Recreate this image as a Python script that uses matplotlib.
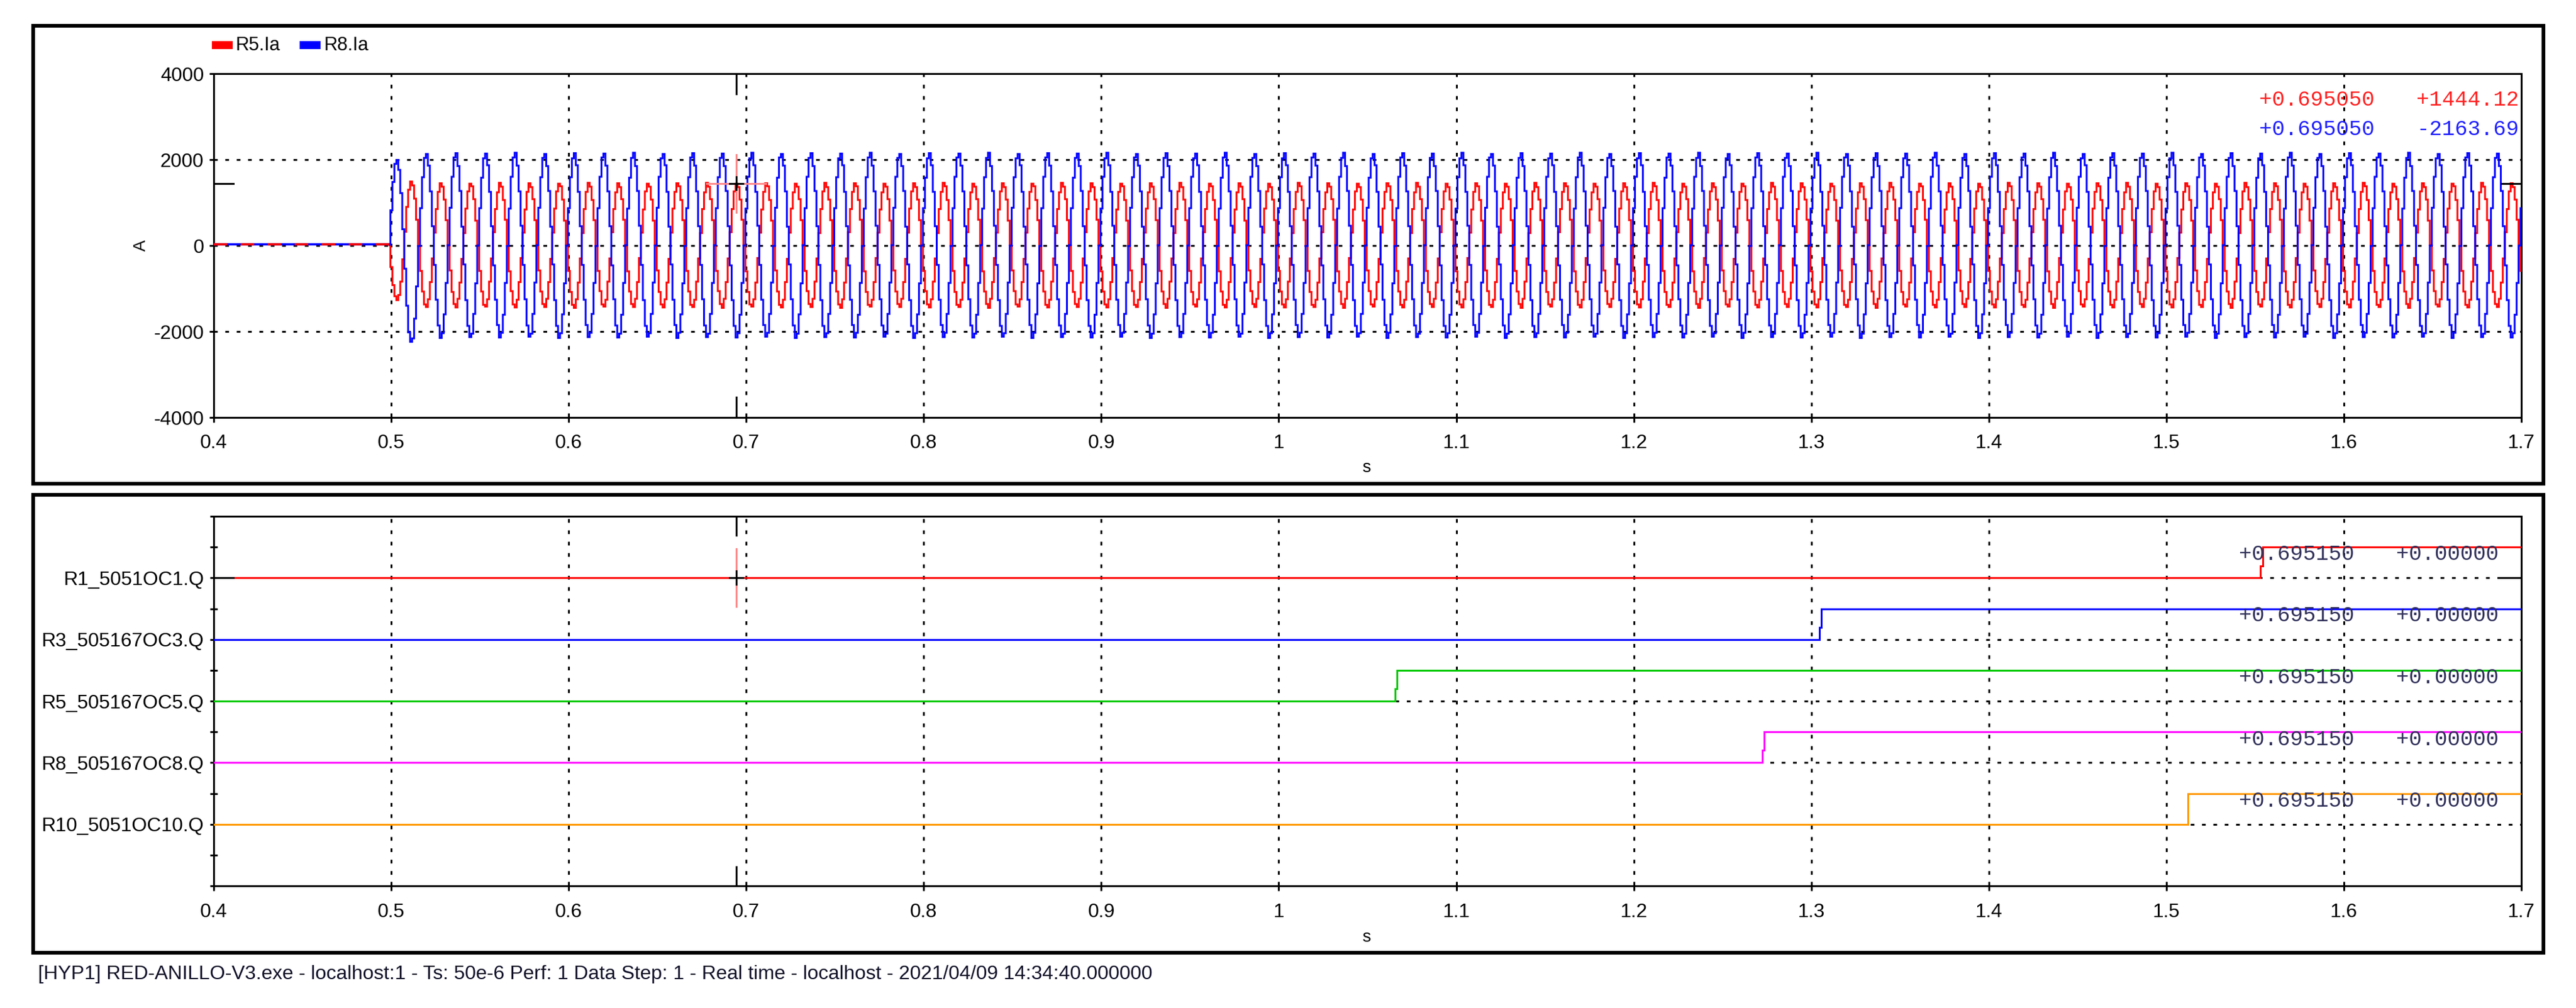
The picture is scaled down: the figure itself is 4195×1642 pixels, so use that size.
from matplotlib import pyplot as plt
from matplotlib.patches import Rectangle
import numpy as np

# size of the picture in pixels
W = 4195
H = 1642

x_ticks = [0.4, 0.5, 0.6, 0.7, 0.8, 0.9, 1.0, 1.1, 1.2, 1.3, 1.4, 1.5, 1.6, 1.7]
x_labels = ['0.4', '0.5', '0.6', '0.7', '0.8', '0.9', '1', '1.1', '1.2', '1.3', '1.4', '1.5', '1.6', '1.7']
y_ticks = [-4000, -2000, 0, 2000, 4000]

# one reading every 1/900 s, starting when the fault current appears
fault_start = 0.499
sample_step = 1 / 900
prefault_t = [0.4, 0.499]
prefault_r5 = [30, 30]
prefault_r8 = [35, 35]

r5_ia = [
    10, -500, -920, -1180, -1270, -1150, -840, -320, 320, 900, 1300, 1490, 1400, 1090, 600,
    -10, -590, -1070, -1370, -1430, -1250, -850, -300, 300, 850, 1250, 1450, 1370, 1070, 590,
    0, -580, -1080, -1360, -1440, -1240, -860, -310, 290, 860, 1260, 1440, 1380, 1080, 580,
    10, -590, -1070, -1380, -1420, -1250, -840, -300, 310, 850, 1240, 1460, 1370, 1060, 600,
    -10, -600, -1060, -1370, -1440, -1260, -850, -290, 300, 840, 1250, 1450, 1360, 1080, 590,
    0, -580, -1070, -1360, -1430, -1240, -850, -310, 300, 860, 1260, 1440, 1380, 1070, 580,
    10, -590, -1080, -1380, -1450, -1250, -860, -300, 290, 850, 1250, 1460, 1370, 1060, 590,
    -10, -590, -1060, -1370, -1420, -1260, -840, -300, 310, 850, 1240, 1450, 1360, 1080, 600,
    0, -600, -1070, -1360, -1430, -1240, -850, -290, 300, 840, 1260, 1440, 1370, 1070, 580,
    10, -580, -1080, -1370, -1440, -1250, -860, -310, 300, 860, 1250, 1450, 1380, 1060, 590,
    -10, -590, -1070, -1380, -1430, -1260, -840, -300, 290, 850, 1240, 1460, 1370, 1080, 590,
    0, -590, -1060, -1360, -1450, -1240, -850, -300, 310, 850, 1260, 1440, 1360, 1070, 600,
    10, -600, -1080, -1370, -1420, -1250, -860, -290, 300, 840, 1250, 1450, 1380, 1060, 580,
    -10, -580, -1070, -1380, -1440, -1260, -850, -310, 300, 860, 1240, 1440, 1370, 1080, 590,
    0, -590, -1060, -1360, -1430, -1240, -840, -300, 290, 850, 1260, 1460, 1360, 1070, 590,
    10, -590, -1070, -1370, -1450, -1250, -860, -300, 310, 850, 1250, 1450, 1380, 1060, 600,
    -10, -600, -1080, -1380, -1420, -1260, -850, -290, 300, 840, 1240, 1440, 1370, 1080, 580,
    0, -580, -1070, -1360, -1430, -1240, -850, -310, 300, 860, 1260, 1450, 1360, 1070, 590,
    10, -590, -1060, -1370, -1440, -1250, -840, -300, 290, 850, 1250, 1460, 1380, 1060, 590,
    -10, -590, -1080, -1380, -1430, -1260, -860, -300, 310, 850, 1240, 1440, 1370, 1080, 600,
    0, -600, -1070, -1360, -1450, -1240, -850, -290, 300, 840, 1260, 1450, 1360, 1070, 580,
    10, -580, -1060, -1370, -1420, -1250, -850, -310, 300, 860, 1250, 1440, 1380, 1060, 590,
    -10, -590, -1070, -1380, -1440, -1260, -840, -300, 290, 850, 1240, 1460, 1370, 1080, 590,
    0, -590, -1080, -1360, -1430, -1240, -860, -300, 310, 850, 1260, 1450, 1360, 1070, 600,
    10, -600, -1070, -1370, -1440, -1250, -850, -290, 300, 840, 1250, 1440, 1380, 1060, 580,
    -10, -580, -1060, -1380, -1430, -1260, -850, -310, 300, 860, 1240, 1450, 1370, 1080, 590,
    0, -590, -1070, -1360, -1450, -1240, -840, -300, 290, 850, 1260, 1460, 1360, 1070, 590,
    10, -590, -1080, -1370, -1420, -1250, -860, -300, 310, 850, 1250, 1440, 1380, 1060, 600,
    -10, -600, -1070, -1380, -1440, -1260, -850, -290, 300, 840, 1240, 1450, 1370, 1080, 580,
    0, -580, -1060, -1360, -1430, -1240, -850, -310, 300, 860, 1260, 1440, 1360, 1070, 590,
    10, -590, -1070, -1370, -1440, -1250, -840, -300, 290, 850, 1250, 1460, 1380, 1060, 590,
    -10, -590, -1080, -1380, -1430, -1260, -860, -300, 310, 850, 1240, 1450, 1370, 1080, 600,
    0, -600, -1070, -1360, -1450, -1240, -850, -290, 300, 840, 1260, 1440, 1360, 1070, 580,
    10, -580, -1060, -1370, -1420, -1250, -850, -310, 300, 860, 1250, 1450, 1380, 1060, 590,
    -10, -590, -1070, -1380, -1440, -1260, -840, -300, 290, 850, 1240, 1460, 1370, 1080, 590,
    0, -590, -1080, -1360, -1430, -1240, -860, -300, 310, 850, 1260, 1440, 1360, 1070, 600,
    10, -600, -1070, -1370, -1440, -1250, -850, -290, 300, 840, 1250, 1450, 1380, 1060, 580,
    -10, -580, -1060, -1380, -1430, -1260, -850, -310, 300, 860, 1240, 1440, 1370, 1080, 590,
    0, -590, -1070, -1360, -1450, -1240, -840, -300, 290, 850, 1260, 1460, 1360, 1070, 590,
    10, -590, -1080, -1370, -1420, -1250, -860, -300, 310, 850, 1250, 1450, 1380, 1060, 600,
    -10, -600, -1070, -1380, -1440, -1260, -850, -290, 300, 840, 1240, 1440, 1370, 1080, 580,
    0, -580, -1060, -1360, -1430, -1240, -850, -310, 300, 860, 1260, 1450, 1360, 1070, 590,
    10, -590, -1070, -1370, -1440, -1250, -840, -300, 290, 850, 1250, 1460, 1380, 1060, 590,
    -10, -590, -1080, -1380, -1430, -1260, -860, -300, 310, 850, 1240, 1440, 1370, 1080, 600,
    0, -600, -1070, -1360, -1450, -1240, -850, -290, 300, 840, 1260, 1450, 1360, 1070, 580,
    10, -580, -1060, -1370, -1420, -1250, -850, -310, 300, 860, 1250, 1440, 1380, 1060, 590,
    -10, -590, -1070, -1380, -1440, -1260, -840, -300, 290, 850, 1240, 1460, 1370, 1080, 590,
    0, -590, -1080, -1360, -1430, -1240, -860, -300, 310, 850, 1260, 1450, 1360, 1070, 600,
    10, -600, -1070, -1370, -1440, -1250, -850, -290, 300, 840, 1250, 1440, 1380, 1060, 580,
    -10, -580, -1060, -1380, -1430, -1260, -850, -310, 300, 860, 1240, 1450, 1370, 1080, 590,
    0, -590, -1070, -1360, -1450, -1240, -840, -300, 290, 850, 1260, 1460, 1360, 1070, 590,
    10, -590, -1080, -1370, -1420, -1250, -860, -300, 310, 850, 1250, 1440, 1380, 1060, 600,
    -10, -600, -1070, -1380, -1440, -1260, -850, -290, 300, 840, 1240, 1450, 1370, 1080, 580,
    0, -580, -1060, -1360, -1430, -1240, -850, -310, 300, 860, 1260, 1440, 1360, 1070, 590,
    10, -590, -1070, -1370, -1440, -1250, -840, -300, 290, 850, 1250, 1460, 1380, 1060, 590,
    -10, -590, -1080, -1380, -1430, -1260, -860, -300, 310, 850, 1240, 1450, 1370, 1080, 600,
    0, -600, -1070, -1360, -1450, -1240, -850, -290, 300, 840, 1260, 1440, 1360, 1070, 580,
    10, -580, -1060, -1370, -1420, -1250, -850, -310, 300, 860, 1250, 1450, 1380, 1060, 590,
    -10, -590, -1070, -1380, -1440, -1260, -840, -300, 290, 850, 1240, 1460, 1370, 1080, 590,
    0, -590, -1080, -1360, -1430, -1240, -860, -300, 310, 850, 1260, 1440, 1360, 1070, 600,
    10, -600, -1070, -1370, -1440, -1250, -850, -290, 300, 840, 1250, 1450, 1380, 1060, 580,
    -10, -580, -1060, -1380, -1430, -1260, -850, -310, 300, 860, 1240, 1440, 1370, 1080, 590,
    0, -590, -1070, -1360, -1450, -1240, -840, -300, 290, 850, 1260, 1460, 1360, 1070, 590,
    10, -590, -1080, -1370, -1420, -1250, -860, -300, 310, 850, 1250, 1450, 1380, 1060, 600,
    -10, -600, -1070, -1380, -1440, -1260, -850, -290, 300, 840, 1240, 1440, 1370, 1080, 580,
    0, -580, -1060, -1360, -1430, -1240, -850, -310, 300, 860, 1260, 1450, 1360, 1070, 590,
    10, -590, -1070, -1370, -1440, -1250, -840, -300, 290, 850, 1250, 1460, 1380, 1060, 590,
    -10, -590, -1080, -1380, -1430, -1260, -860, -300, 310, 850, 1240, 1440, 1370, 1080, 600,
    0, -600, -1070, -1360, -1450, -1240, -850, -290, 300, 840, 1260, 1450, 1360, 1070, 580,
    10, -580, -1060, -1370, -1420, -1250, -850, -310, 300, 860, 1250, 1440, 1380, 1060, 590,
    -10, -590, -1070, -1380, -1440, -1260, -840, -300, 290, 850, 1240, 1460, 1370, 1080, 590,
    0, -590, -1080, -1360, -1430, -1240, -860, -300, 310, 850, 1260, 1450, 1360, 1070, 600,
    0, -590,
]

r8_ia = [
    20, 820, 1480, 1900, 1990, 1760, 1220, 380, -540, -1400, -2020, -2240, -2160, -1700, -950,
    -10, 870, 1590, 2040, 2130, 1860, 1260, 450, -450, -1260, -1860, -2150, -2040, -1600, -870,
    10, 880, 1600, 2050, 2150, 1850, 1270, 440, -440, -1270, -1870, -2130, -2050, -1590, -880,
    0, 870, 1580, 2030, 2140, 1870, 1250, 450, -460, -1260, -1850, -2140, -2030, -1610, -870,
    -10, 860, 1600, 2050, 2160, 1860, 1260, 460, -450, -1250, -1860, -2120, -2050, -1590, -860,
    10, 880, 1590, 2040, 2130, 1850, 1270, 440, -440, -1270, -1870, -2150, -2040, -1600, -880,
    0, 870, 1590, 2030, 2150, 1870, 1250, 450, -450, -1260, -1850, -2130, -2030, -1590, -870,
    -10, 870, 1600, 2050, 2140, 1860, 1260, 450, -460, -1250, -1860, -2140, -2050, -1610, -870,
    10, 860, 1580, 2040, 2160, 1850, 1270, 460, -450, -1270, -1870, -2120, -2040, -1590, -860,
    0, 880, 1600, 2030, 2130, 1870, 1250, 440, -440, -1260, -1850, -2150, -2030, -1600, -880,
    -10, 870, 1590, 2050, 2150, 1860, 1260, 450, -450, -1250, -1860, -2130, -2050, -1590, -870,
    10, 870, 1590, 2040, 2140, 1850, 1270, 450, -460, -1270, -1870, -2140, -2040, -1610, -870,
    0, 860, 1600, 2030, 2160, 1870, 1250, 460, -450, -1260, -1850, -2120, -2030, -1590, -860,
    -10, 880, 1580, 2050, 2130, 1860, 1260, 440, -440, -1250, -1860, -2150, -2050, -1600, -880,
    10, 870, 1600, 2040, 2150, 1850, 1270, 450, -450, -1270, -1870, -2130, -2040, -1590, -870,
    0, 870, 1590, 2030, 2140, 1870, 1250, 450, -460, -1260, -1850, -2140, -2030, -1610, -870,
    -10, 860, 1590, 2050, 2160, 1860, 1260, 460, -450, -1250, -1860, -2120, -2050, -1590, -860,
    10, 880, 1600, 2040, 2130, 1850, 1270, 440, -440, -1270, -1870, -2150, -2040, -1600, -880,
    0, 870, 1580, 2030, 2150, 1870, 1250, 450, -450, -1260, -1850, -2130, -2030, -1590, -870,
    -10, 870, 1600, 2050, 2140, 1860, 1260, 450, -460, -1250, -1860, -2140, -2050, -1610, -870,
    10, 860, 1590, 2040, 2160, 1850, 1270, 460, -450, -1270, -1870, -2120, -2040, -1590, -860,
    0, 880, 1590, 2030, 2130, 1870, 1250, 440, -440, -1260, -1850, -2150, -2030, -1600, -880,
    -10, 870, 1600, 2050, 2150, 1860, 1260, 450, -450, -1250, -1860, -2130, -2050, -1590, -870,
    10, 870, 1580, 2040, 2140, 1850, 1270, 450, -460, -1270, -1870, -2140, -2040, -1610, -870,
    0, 860, 1600, 2030, 2160, 1870, 1250, 460, -450, -1260, -1850, -2120, -2030, -1590, -860,
    -10, 880, 1590, 2050, 2130, 1860, 1260, 440, -440, -1250, -1860, -2150, -2050, -1600, -880,
    10, 870, 1590, 2040, 2150, 1850, 1270, 450, -450, -1270, -1870, -2130, -2040, -1590, -870,
    0, 870, 1600, 2030, 2140, 1870, 1250, 450, -460, -1260, -1850, -2140, -2030, -1610, -870,
    -10, 860, 1580, 2050, 2160, 1860, 1260, 460, -450, -1250, -1860, -2120, -2050, -1590, -860,
    10, 880, 1600, 2040, 2130, 1850, 1270, 440, -440, -1270, -1870, -2150, -2040, -1600, -880,
    0, 870, 1590, 2030, 2150, 1870, 1250, 450, -450, -1260, -1850, -2130, -2030, -1590, -870,
    -10, 870, 1590, 2050, 2140, 1860, 1260, 450, -460, -1250, -1860, -2140, -2050, -1610, -870,
    10, 860, 1600, 2040, 2160, 1850, 1270, 460, -450, -1270, -1870, -2120, -2040, -1590, -860,
    0, 880, 1580, 2030, 2130, 1870, 1250, 440, -440, -1260, -1850, -2150, -2030, -1600, -880,
    -10, 870, 1600, 2050, 2150, 1860, 1260, 450, -450, -1250, -1860, -2130, -2050, -1590, -870,
    10, 870, 1590, 2040, 2140, 1850, 1270, 450, -460, -1270, -1870, -2140, -2040, -1610, -870,
    0, 860, 1590, 2030, 2160, 1870, 1250, 460, -450, -1260, -1850, -2120, -2030, -1590, -860,
    -10, 880, 1600, 2050, 2130, 1860, 1260, 440, -440, -1250, -1860, -2150, -2050, -1600, -880,
    10, 870, 1580, 2040, 2150, 1850, 1270, 450, -450, -1270, -1870, -2130, -2040, -1590, -870,
    0, 870, 1600, 2030, 2140, 1870, 1250, 450, -460, -1260, -1850, -2140, -2030, -1610, -870,
    -10, 860, 1590, 2050, 2160, 1860, 1260, 460, -450, -1250, -1860, -2120, -2050, -1590, -860,
    10, 880, 1590, 2040, 2130, 1850, 1270, 440, -440, -1270, -1870, -2150, -2040, -1600, -880,
    0, 870, 1600, 2030, 2150, 1870, 1250, 450, -450, -1260, -1850, -2130, -2030, -1590, -870,
    -10, 870, 1580, 2050, 2140, 1860, 1260, 450, -460, -1250, -1860, -2140, -2050, -1610, -870,
    10, 860, 1600, 2040, 2160, 1850, 1270, 460, -450, -1270, -1870, -2120, -2040, -1590, -860,
    0, 880, 1590, 2030, 2130, 1870, 1250, 440, -440, -1260, -1850, -2150, -2030, -1600, -880,
    -10, 870, 1590, 2050, 2150, 1860, 1260, 450, -450, -1250, -1860, -2130, -2050, -1590, -870,
    10, 870, 1600, 2040, 2140, 1850, 1270, 450, -460, -1270, -1870, -2140, -2040, -1610, -870,
    0, 860, 1580, 2030, 2160, 1870, 1250, 460, -450, -1260, -1850, -2120, -2030, -1590, -860,
    -10, 880, 1600, 2050, 2130, 1860, 1260, 440, -440, -1250, -1860, -2150, -2050, -1600, -880,
    10, 870, 1590, 2040, 2150, 1850, 1270, 450, -450, -1270, -1870, -2130, -2040, -1590, -870,
    0, 870, 1590, 2030, 2140, 1870, 1250, 450, -460, -1260, -1850, -2140, -2030, -1610, -870,
    -10, 860, 1600, 2050, 2160, 1860, 1260, 460, -450, -1250, -1860, -2120, -2050, -1590, -860,
    10, 880, 1580, 2040, 2130, 1850, 1270, 440, -440, -1270, -1870, -2150, -2040, -1600, -880,
    0, 870, 1600, 2030, 2150, 1870, 1250, 450, -450, -1260, -1850, -2130, -2030, -1590, -870,
    -10, 870, 1590, 2050, 2140, 1860, 1260, 450, -460, -1250, -1860, -2140, -2050, -1610, -870,
    10, 860, 1590, 2040, 2160, 1850, 1270, 460, -450, -1270, -1870, -2120, -2040, -1590, -860,
    0, 880, 1600, 2030, 2130, 1870, 1250, 440, -440, -1260, -1850, -2150, -2030, -1600, -880,
    -10, 870, 1580, 2050, 2150, 1860, 1260, 450, -450, -1250, -1860, -2130, -2050, -1590, -870,
    10, 870, 1600, 2040, 2140, 1850, 1270, 450, -460, -1270, -1870, -2140, -2040, -1610, -870,
    0, 860, 1590, 2030, 2160, 1870, 1250, 460, -450, -1260, -1850, -2120, -2030, -1590, -860,
    -10, 880, 1590, 2050, 2130, 1860, 1260, 440, -440, -1250, -1860, -2150, -2050, -1600, -880,
    10, 870, 1600, 2040, 2150, 1850, 1270, 450, -450, -1270, -1870, -2130, -2040, -1590, -870,
    0, 870, 1580, 2030, 2140, 1870, 1250, 450, -460, -1260, -1850, -2140, -2030, -1610, -870,
    -10, 860, 1600, 2050, 2160, 1860, 1260, 460, -450, -1250, -1860, -2120, -2050, -1590, -860,
    10, 880, 1590, 2040, 2130, 1850, 1270, 440, -440, -1270, -1870, -2150, -2040, -1600, -880,
    0, 870, 1590, 2030, 2150, 1870, 1250, 450, -450, -1260, -1850, -2130, -2030, -1590, -870,
    -10, 870, 1600, 2050, 2140, 1860, 1260, 450, -460, -1250, -1860, -2140, -2050, -1610, -870,
    10, 860, 1580, 2040, 2160, 1850, 1270, 460, -450, -1270, -1870, -2120, -2040, -1590, -860,
    0, 880, 1600, 2030, 2130, 1870, 1250, 440, -440, -1260, -1850, -2150, -2030, -1600, -880,
    -10, 870, 1590, 2050, 2150, 1860, 1260, 450, -450, -1250, -1860, -2130, -2050, -1590, -870,
    10, 870, 1590, 2040, 2140, 1850, 1270, 450, -460, -1270, -1870, -2140, -2040, -1610, -870,
    0, 870,
]

# cursor readouts
cursor_t = 0.6945
cursor_r5 = 1444.12
readout_r5 = ['+0.695050', '+1444.12']
readout_r8 = ['+0.695050', '-2163.69']
readout_q = ['+0.695150', '+0.00000']

# trip signals, one level per relay from top to bottom
q_names = ['R1_5051OC1.Q', 'R3_505167OC3.Q', 'R5_505167OC5.Q', 'R8_505167OC8.Q', 'R10_5051OC10.Q']
q_colors = ['#ff0000', '#0000ff', '#00c800', '#ff00ff', '#ff9900']
q_levels = [5, 4, 3, 2, 1]
q_times = [
    [0.4, 1.553, 1.5545, 1.7],
    [0.4, 1.3045, 1.3055, 1.7],
    [0.4, 1.0655, 1.0665, 1.7],
    [0.4, 1.2725, 1.2735, 1.7],
    [0.4, 1.512, 1.7],
]
q_values = [
    [0, 0.19, 0.5, 0.5],
    [0, 0.2, 0.5, 0.5],
    [0, 0.2, 0.5, 0.5],
    [0, 0.2, 0.5, 0.5],
    [0, 0.5, 0.5],
]

footer = '[HYP1] RED-ANILLO-V3.exe - localhost:1 - Ts: 50e-6 Perf: 1 Data Step: 1 - Real time - localhost - 2021/04/09 14:34:40.000000'


def px(n):
    # pixels to points at dpi 100
    return n * 0.72


def add_axes_px(left, top, right, bottom):
    return fig.add_axes([left / W, 1 - bottom / H, (right - left) / W, (bottom - top) / H])


def add_frame(left, top, right, bottom):
    fig.add_artist(Rectangle((left / W, 1 - bottom / H), (right - left) / W, (bottom - top) / H,
                             transform=fig.transFigure, fill=False, ec='black', lw=px(6)))


def put_text(x, y, s, **kw):
    fig.text(x / W, 1 - y / H, s, va='center', **kw)


def style_axes(ax):
    ax.set_xlim(0.4, 1.7)
    ax.set_xticks(x_ticks)
    ax.set_xticklabels(x_labels)
    ax.grid(True, color='black', lw=px(3), ls=(0, (px(6), px(12.5))), zorder=1)
    ax.set_axisbelow(True)
    ax.tick_params(axis='x', direction='inout', length=px(15), width=px(3), pad=px(20), labelsize=23)
    for s in ax.spines.values():
        s.set_linewidth(px(3))


plt.rcParams['font.family'] = ['Liberation Sans', 'DejaVu Sans']
plt.rcParams['lines.scale_dashes'] = False

fig = plt.figure(figsize=(W / 100, H / 100), dpi=100)

add_frame(54, 42, 4142, 788)
add_frame(54, 806, 4142, 1552)

# top panel, currents
ax1 = add_axes_px(348, 120, 4106, 680)
style_axes(ax1)
ax1.set_ylim(-4000, 4000)
ax1.set_yticks(y_ticks)
ax1.set_yticklabels(['-4000', '-2000', '0', '2000', '4000'])
ax1.tick_params(axis='y', direction='out', length=px(7), width=px(3), pad=px(9), labelsize=23)

t = fault_start + np.arange(len(r5_ia)) * sample_step
ax1.plot(t, r5_ia, color='#ff0000', lw=px(3), drawstyle='steps-mid', zorder=3, solid_joinstyle='miter')
ax1.plot(t, r8_ia, color='#0000ff', lw=px(3), drawstyle='steps-mid', zorder=4, solid_joinstyle='miter')
ax1.plot(prefault_t, prefault_r8, color='#0000ff', lw=px(3.5), zorder=4)
ax1.plot(prefault_t, prefault_r5, color='#ff0000', lw=px(3.5), ls=(0, (px(22), px(22))), zorder=5)

# cursor marks of the top panel
ax1.plot([cursor_t, cursor_t], [3530, 4000], color='black', lw=px(3), zorder=6)
ax1.plot([cursor_t, cursor_t], [-4000, -3530], color='black', lw=px(3), zorder=6)
ax1.plot([cursor_t, cursor_t], [cursor_r5 - 670, cursor_r5 + 670], color='#ff8a8a', lw=px(3), zorder=6)
ax1.plot([cursor_t - 0.0166, cursor_t + 0.0166], [cursor_r5, cursor_r5], color='#ff8a8a', lw=px(3), zorder=6)
ax1.plot([cursor_t, cursor_t], [cursor_r5 - 150, cursor_r5 + 150], color='black', lw=px(3), zorder=7)
ax1.plot([cursor_t - 0.0038, cursor_t + 0.0038], [cursor_r5, cursor_r5], color='black', lw=px(3), zorder=7)
ax1.plot([0.4, 0.411], [cursor_r5, cursor_r5], color='black', lw=px(3), zorder=7)
ax1.plot([1.689, 1.7], [cursor_r5, cursor_r5], color='black', lw=px(3), zorder=7)

# bottom panel, trip signals
ax2 = add_axes_px(348, 841, 4106, 1443)
style_axes(ax2)
ax2.set_ylim(0, 6)
ax2.set_yticks(q_levels)
ax2.set_yticklabels(q_names)
ax2.set_yticks([0, 0.5, 1.5, 2.5, 3.5, 4.5, 5.5, 6], minor=True)
ax2.tick_params(axis='y', which='major', direction='inout', length=px(12), width=px(3), pad=px(10), labelsize=23)
ax2.tick_params(axis='y', which='minor', direction='inout', length=px(12), width=px(3))

for times, values, level, color in zip(q_times, q_values, q_levels, q_colors):
    ax2.plot(times, np.array(values) + level, color=color, lw=px(3), drawstyle='steps-post', zorder=3,
             solid_joinstyle='miter')

# cursor marks of the bottom panel
ax2.plot([cursor_t, cursor_t], [5.69, 6], color='black', lw=px(3), zorder=6)
ax2.plot([cursor_t, cursor_t], [0, 0.31], color='black', lw=px(3), zorder=6)
ax2.plot([cursor_t, cursor_t], [4.53, 5.47], color='#ff8a8a', lw=px(3), zorder=6)
ax2.plot([cursor_t, cursor_t], [4.89, 5.11], color='black', lw=px(3), zorder=7)
ax2.plot([cursor_t - 0.0038, cursor_t + 0.0038], [5, 5], color='black', lw=px(3), zorder=7)
ax2.plot([0.4, 0.411], [5, 5], color='black', lw=px(3), zorder=7)
ax2.plot([1.689, 1.7], [5, 5], color='black', lw=px(3), zorder=7)

# legend, drawn like the plot window does it
for left, color, name, text_x in [(345, '#ff0000', 'R5.Ia', 384), (488, '#0000ff', 'R8.Ia', 527)]:
    fig.add_artist(Rectangle((left / W, 1 - 80 / H), 34 / W, 13 / H, transform=fig.transFigure, fc=color, ec='none'))
    put_text(text_x, 74, name, fontsize=22, color='black')

# cursor readouts, monospace like the original
for y, vals, color in [(162, readout_r5, '#ff2020'), (211, readout_r8, '#2020ff')]:
    put_text(3679, y, vals[0], family='Liberation Mono', fontsize=25, color=color, zorder=10)
    put_text(3935, y, vals[1], family='Liberation Mono', fontsize=25, color=color, zorder=10)
for y in [902, 1002, 1103, 1204, 1304]:
    put_text(3646, y, readout_q[0], family='Liberation Mono', fontsize=25, color='#30305a', zorder=10)
    put_text(3902, y, readout_q[1], family='Liberation Mono', fontsize=25, color='#30305a', zorder=10)

# axis names and footer
put_text(230, 400, 'A', fontsize=20, rotation=90, ha='center')
put_text(2225, 762, 's', fontsize=20, ha='center')
put_text(2225, 1527, 's', fontsize=20, ha='center')
put_text(62, 1587, footer, fontsize=23.2, color='#10102a')

fig.savefig('out.png', dpi=100)
